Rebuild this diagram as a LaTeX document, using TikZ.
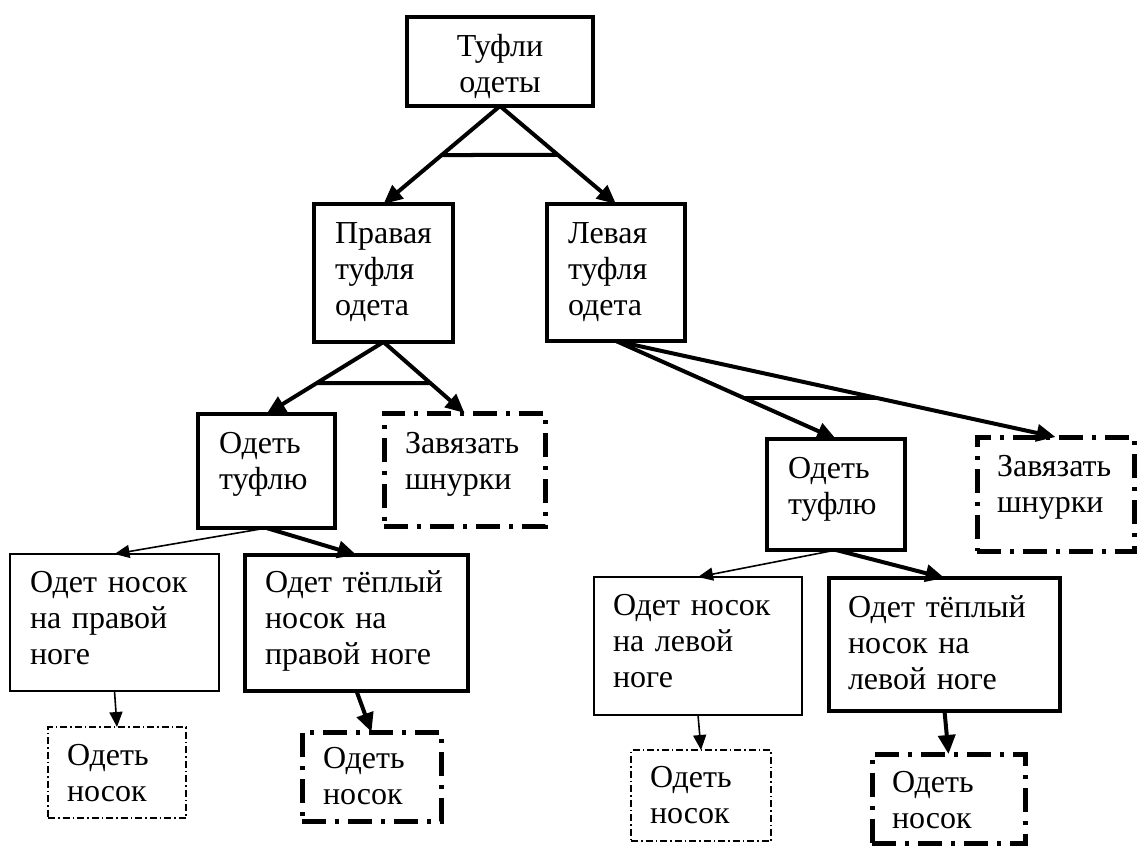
\documentclass[tikz,border=0pt]{standalone}
\usepackage{fontspec}
\setmainfont{Liberation Serif}
\usetikzlibrary{arrows.meta,calc}

\begin{document}
\begin{tikzpicture}[
  x=1pt, y=-1pt,
  % text width, left inset, first baseline below top, rest of height
  geom/.style n args={4}{text width=#1pt, inner xsep=#2pt, inner ysep=0pt,
    text height=#3pt, text depth=#4pt, anchor=north west, outer sep=0pt},
  every node/.style={font=\fontsize{32}{36}\selectfont, align=left},
  thickbox/.style={draw, line width=4pt},
  thinbox/.style={draw, line width=1.8pt},
  thickdd/.style={draw, line width=5pt, dash pattern=on 24pt off 9pt on 4pt off 9pt},
  thindd/.style={draw, line width=1.5pt, dash pattern=on 7pt off 3pt on 1.5pt off 3pt},
  thickarrow/.style={line width=4pt, -{Triangle[length=19pt,width=17pt]}},
  thinarrow/.style={line width=1.6pt, -{Triangle[length=15pt,width=13pt]}},
  bar/.style={line width=4pt}
]
\useasboundingbox (0,0) rectangle (1139,848);

% goal
\node[thickbox, geom={166}{10}{40}{49}, align=center] (top) at (407,17) {Туфли\\одеты};

% shoes
\node[thickbox, geom={97}{21}{39}{99}] (rs) at (314,204) {Правая\\туфля\\одета};
\node[thickbox, geom={96}{21}{39}{98}] (ls) at (547,204) {Левая\\туфля\\одета};

% shoe actions
\node[thickbox, geom={95}{21}{39}{75}] (rput) at (198,414) {Одеть\\туфлю};
\node[thickdd, geom={119}{21}{40}{73}] (rlace) at (384,413) {Завязать\\шнурки};
\node[thickbox, geom={96}{21}{39}{72}] (lput) at (767,439) {Одеть\\туфлю};
\node[thickdd, geom={117}{20}{39}{75}] (llace) at (977,437) {Завязать\\шнурки};

% socks
\node[thinbox, geom={169}{20}{38}{99}] (rsock) at (10,554) {Одет~носок\\на~правой\\ноге};
\node[thickbox, geom={183}{20}{37}{99}] (rwarm) at (245,555) {Одет~тёплый\\носок~на\\правой~ноге};
\node[thinbox, geom={170}{19}{38}{100}] (lsock) at (594,577) {Одет~носок\\на~левой\\ноге};
\node[thickbox, geom={193}{19}{39}{94}] (lwarm) at (829,578) {Одет~тёплый\\носок~на\\левой~ноге};

% sock actions
\node[thindd, geom={100}{19}{38}{53}] (rsockput) at (48,727) {Одеть\\носок};
\node[thickdd, geom={97}{21}{36}{53}] (rwarmput) at (302,732) {Одеть\\носок};
\node[thindd, geom={102}{19}{37}{54}] (lsockput) at (631,750) {Одеть\\носок};
\node[thickdd, geom={113}{20}{38}{51}] (lwarmput) at (872,754) {Одеть\\носок};

% connectors
\draw[thickarrow] (top.south) -- (rs.north);
\draw[thickarrow] (top.south) -- (ls.north);
\draw[thickarrow] (rs.south) -- (rput.north);
\draw[thickarrow] (rs.south) -- (rlace.north);
\draw[thickarrow] (ls.south) -- (lput.north);
\draw[thickarrow] (ls.south) -- (llace.north);
\draw[thinarrow]  (rput.south) -- (rsock.north);
\draw[thickarrow] (rput.south) -- (rwarm.north);
\draw[thinarrow]  (lput.south) -- (lsock.north);
\draw[thickarrow] (lput.south) -- (lwarm.north);
\draw[thinarrow]  (rsock.south) -- (rsockput.north);
\draw[thickarrow] (rwarm.south) -- (rwarmput.north);
\draw[thinarrow]  (lsock.south) -- (lsockput.north);
\draw[thickarrow] (lwarm.south) -- (lwarmput.north);

% AND bars across the branches
\coordinate (a1) at ($(top.south)!0.5!(rs.north)$);
\coordinate (a2) at ($(a1)+(300,0)$);
\draw[bar] (a1) -- (intersection of top.south--ls.north and a1--a2);

\coordinate (b1) at ($(rs.south)!0.57!(rput.north)$);
\coordinate (b2) at ($(b1)+(300,0)$);
\draw[bar] (b1) -- (intersection of rs.south--rlace.north and b1--b2);

\coordinate (c1) at ($(ls.south)!0.58!(lput.north)$);
\coordinate (c2) at ($(c1)+(300,0)$);
\draw[bar] (c1) -- (intersection of ls.south--llace.north and c1--c2);
\end{tikzpicture}
\end{document}
